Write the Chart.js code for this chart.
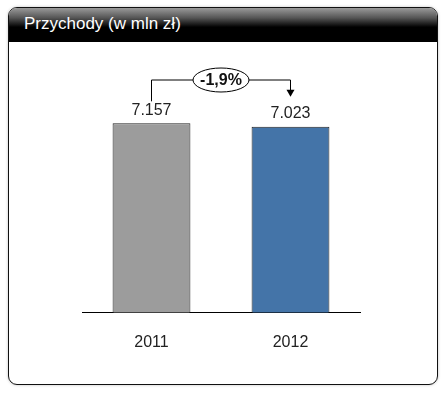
<!DOCTYPE html>
<html>
<head>
<meta charset="utf-8">
<script src="https://cdn.jsdelivr.net/npm/chart.js@4/dist/chart.umd.min.js"></script>
<style>
  html, body { margin: 0; padding: 0; background: #fff; }
  body { width: 444px; height: 402px; position: relative; overflow: hidden; font-family: "Liberation Sans", Arial, sans-serif; }
  .frame {
    position: absolute; left: 8px; top: 7px; width: 428px; height: 376px;
    border: 1.5px solid #111; border-radius: 9px; overflow: hidden;
    box-shadow: 0 0 3px rgba(0,0,0,0.25);
  }
  .header {
    height: 33px; color: #fff; font-size: 17px; line-height: 31px; padding-left: 15px;
    background: linear-gradient(to bottom, #9a9a9a 0%, #555 30%, #000 58%, #000 100%);
    border-bottom: 1px solid #000;
  }
  #revChart { position: absolute; left: 0; top: 0; }
</style>
</head>
<body>
<div class="frame"><div class="header">Przychody (w mln zł)</div></div>
<canvas id="revChart" width="444" height="402"></canvas>
<script>
const years = ['2011', '2012'];
const revenue = [7.157, 7.023];
const valueLabels = ['7.157', '7.023'];
const changeLabel = '-1,9%';
const barColors = ['#9c9c9c', '#4474a8'];

// labels above the bars plus the bracket with the change
const annotations = {
  id: 'annotations',
  afterDatasetsDraw(chart) {
    const ctx = chart.ctx;
    const meta = chart.getDatasetMeta(0);
    const y = chart.scales.y;
    ctx.save();
    ctx.fillStyle = '#222';
    ctx.font = '16px "Liberation Sans", Arial, sans-serif';
    ctx.textAlign = 'center';
    ctx.textBaseline = 'bottom';
    meta.data.forEach((bar, i) => {
      ctx.fillText(valueLabels[i], bar.x, bar.y - 5);
    });

    const x1 = meta.data[0].x, x2 = meta.data[1].x;
    const topY = y.getPixelForValue(8) - 21;
    const leftEnd = y.getPixelForValue(revenue[0]) - 22;
    const rightEnd = y.getPixelForValue(revenue[1]) - 30;
    ctx.strokeStyle = '#000';
    ctx.lineWidth = 1;
    ctx.beginPath();
    ctx.moveTo(x1, leftEnd);
    ctx.lineTo(x1, topY);
    ctx.lineTo(x2, topY);
    ctx.lineTo(x2, rightEnd - 6);
    ctx.stroke();
    ctx.fillStyle = '#000';
    ctx.beginPath();
    ctx.moveTo(x2 - 4, rightEnd - 7);
    ctx.lineTo(x2 + 4, rightEnd - 7);
    ctx.lineTo(x2, rightEnd);
    ctx.closePath();
    ctx.fill();

    const cx = (x1 + x2) / 2;
    ctx.beginPath();
    ctx.ellipse(cx, topY, 28, 12, 0, 0, Math.PI * 2);
    ctx.fillStyle = '#fff';
    ctx.fill();
    ctx.stroke();
    ctx.fillStyle = '#111';
    ctx.font = 'bold 16px "Liberation Sans", Arial, sans-serif';
    ctx.textBaseline = 'middle';
    ctx.fillText(changeLabel, cx, topY + 1);
    ctx.restore();
  }
};

new Chart(document.getElementById('revChart'), {
  type: 'bar',
  data: {
    labels: years,
    datasets: [{
      data: revenue,
      backgroundColor: barColors,
      borderColor: '#222',
      borderWidth: 1,
      barPercentage: 0.56,
      categoryPercentage: 1
    }]
  },
  options: {
    responsive: false,
    animation: false,
    layout: { padding: { left: 82, right: 84, top: 101, bottom: 30 } },
    plugins: { legend: { display: false }, tooltip: { enabled: false } },
    scales: {
      x: {
        grid: { display: false, drawTicks: false },
        border: { display: true, color: '#000', width: 1 },
        ticks: { color: '#222', font: { size: 16, family: '"Liberation Sans", Arial, sans-serif' }, padding: 20 }
      },
      y: { display: false, min: 0, max: 8 }
    }
  },
  plugins: [annotations]
});
</script>
</body>
</html>
